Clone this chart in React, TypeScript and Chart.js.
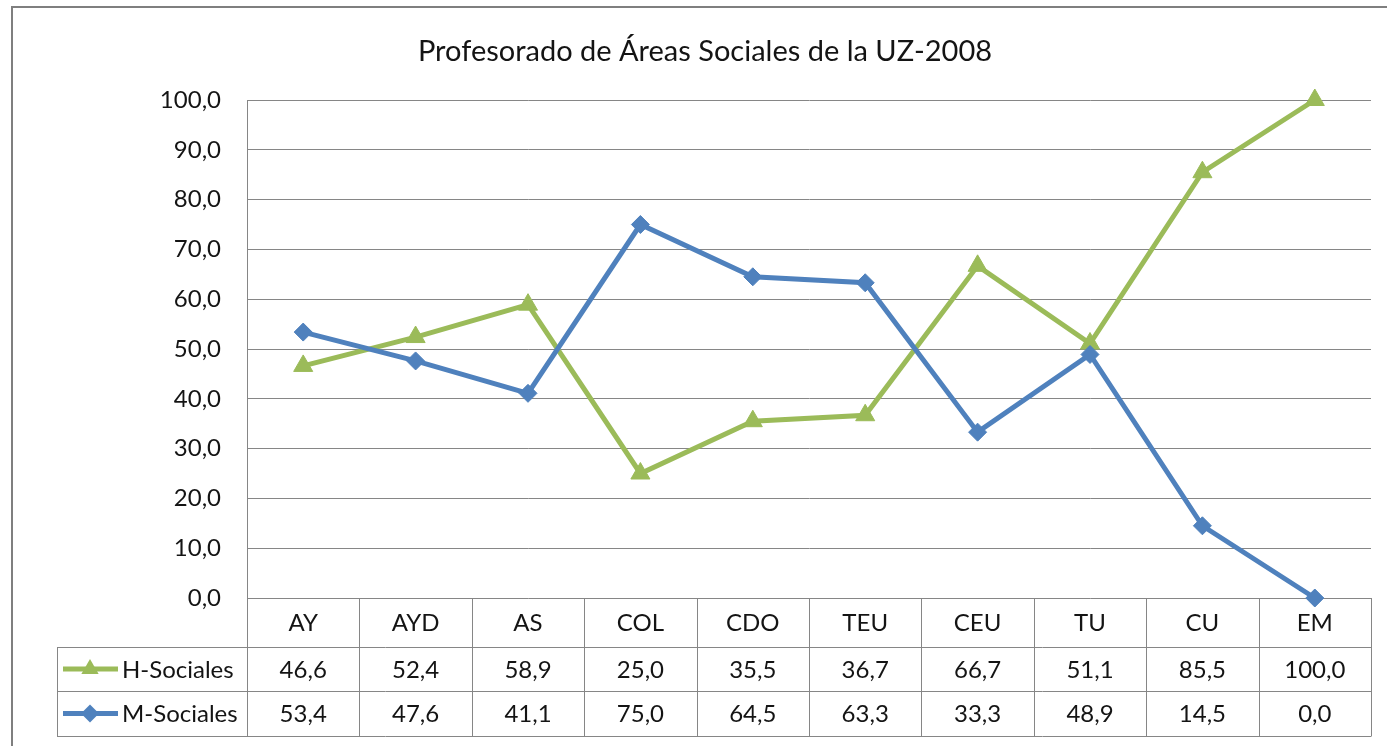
import React, { useEffect, useRef } from "react";
import { Chart, registerables } from "chart.js";

Chart.register(...registerables);

// ---------- data ----------
const categories = ["AY", "AYD", "AS", "COL", "CDO", "TEU", "CEU", "TU", "CU", "EM"];
const hSociales = [46.6, 52.4, 58.9, 25.0, 35.5, 36.7, 66.7, 51.1, 85.5, 100.0];
const mSociales = [53.4, 47.6, 41.1, 75.0, 64.5, 63.3, 33.3, 48.9, 14.5, 0.0];
const seriesNames = ["H-Sociales", "M-Sociales"];
const chartTitle = "Profesorado de Áreas Sociales de la UZ-2008";

// ---------- styles ----------
const GREEN = "#9BBB59";
const BLUE = "#4F81BD";
const GRID = "#868686";
const TEXT = "#141414";
const FONT = "Lato, 'Open Sans', sans-serif";
const fmt = (v: number) => v.toFixed(1).replace(".", ",");

function drawTriangle(ctx: CanvasRenderingContext2D, x: number, y: number, r: number) {
  ctx.beginPath();
  for (let i = 0; i < 3; i++) {
    const a = (i * 2 * Math.PI) / 3;
    const px = x + Math.sin(a) * r;
    const py = y - Math.cos(a) * r;
    if (i === 0) ctx.moveTo(px, py);
    else ctx.lineTo(px, py);
  }
  ctx.closePath();
  ctx.fill();
}

function drawDiamond(ctx: CanvasRenderingContext2D, x: number, y: number, r: number) {
  ctx.beginPath();
  ctx.moveTo(x, y - r);
  ctx.lineTo(x + r, y);
  ctx.lineTo(x, y + r);
  ctx.lineTo(x - r, y);
  ctx.closePath();
  ctx.fill();
}

const framePlugin = {
  id: "frameAndTitle",
  beforeDraw(chart: any) {
    const ctx: CanvasRenderingContext2D = chart.ctx;
    ctx.save();
    ctx.fillStyle = "#ffffff";
    ctx.fillRect(0, 0, chart.width, chart.height);
    ctx.strokeStyle = "#7f7f7f";
    ctx.lineWidth = 2;
    ctx.beginPath();
    ctx.moveTo(12, chart.height);
    ctx.lineTo(12, 7);
    ctx.lineTo(chart.width, 7);
    ctx.stroke();
    ctx.fillStyle = TEXT;
    ctx.font = `29px ${FONT}`;
    ctx.textAlign = "center";
    ctx.textBaseline = "alphabetic";
    ctx.fillText(chartTitle, 705, 61);
    ctx.restore();
  },
};

const tablePlugin = {
  id: "dataTable",
  afterDraw(chart: any) {
    const ctx: CanvasRenderingContext2D = chart.ctx;
    const { left, right, bottom } = chart.chartArea;
    const xs = chart.scales.x;
    const n = categories.length;
    const colW = (right - left) / n;
    const legendLeft = 57;
    const y0 = bottom;
    const y1 = y0 + 49;
    const y2 = y1 + 44;
    const y3 = y2 + 45;
    const a = (v: number) => Math.round(v) + 0.5;

    ctx.save();
    ctx.strokeStyle = GRID;
    ctx.lineWidth = 1;
    ctx.beginPath();
    [y1, y2, y3].forEach((yy) => {
      ctx.moveTo(legendLeft, a(yy));
      ctx.lineTo(right, a(yy));
    });
    for (let i = 0; i <= n; i++) {
      const xx = a(left + i * colW);
      ctx.moveTo(xx, y0);
      ctx.lineTo(xx, a(y3));
    }
    ctx.moveTo(a(legendLeft), a(y1));
    ctx.lineTo(a(legendLeft), a(y3));
    ctx.stroke();

    ctx.fillStyle = TEXT;
    ctx.font = `24px ${FONT}`;
    ctx.textAlign = "center";
    ctx.textBaseline = "middle";
    const rows = [hSociales, mSociales];
    categories.forEach((c, i) => {
      const cx = xs.getPixelForValue(i);
      ctx.fillText(c, cx, (y0 + y1) / 2 + 1);
      ctx.fillText(fmt(rows[0][i]), cx, (y1 + y2) / 2 + 1);
      ctx.fillText(fmt(rows[1][i]), cx, (y2 + y3) / 2 + 1);
    });

    // legend cells
    const colors = [GREEN, BLUE];
    [(y1 + y2) / 2, (y2 + y3) / 2].forEach((cy, k) => {
      ctx.strokeStyle = colors[k];
      ctx.lineWidth = 5;
      ctx.beginPath();
      ctx.moveTo(63, cy);
      ctx.lineTo(118, cy);
      ctx.stroke();
      ctx.fillStyle = colors[k];
      if (k === 0) drawTriangle(ctx, 90, cy, 10);
      else drawDiamond(ctx, 90, cy, 9);
      ctx.fillStyle = TEXT;
      ctx.textAlign = "left";
      ctx.fillText(seriesNames[k], 122, cy + 1);
    });
    ctx.restore();
  },
};

export default function App() {
  const ref = useRef<HTMLCanvasElement | null>(null);
  useEffect(() => {
    if (!ref.current) return;
    const chart = new Chart(ref.current, {
      type: "line",
      data: {
        labels: categories,
        datasets: [
          {
            label: seriesNames[0],
            data: hSociales,
            borderColor: GREEN,
            backgroundColor: GREEN,
            borderWidth: 5,
            pointStyle: "triangle",
            pointRadius: 11,
            pointBorderWidth: 1,
            pointBorderColor: GREEN,
            pointBackgroundColor: GREEN,
            tension: 0,
            clip: false,
            order: 1,
          },
          {
            label: seriesNames[1],
            data: mSociales,
            borderColor: BLUE,
            backgroundColor: BLUE,
            borderWidth: 5,
            pointStyle: "rectRot",
            pointRadius: 9,
            pointBorderWidth: 1,
            pointBorderColor: BLUE,
            pointBackgroundColor: BLUE,
            tension: 0,
            clip: false,
            order: 0,
          },
        ],
      },
      options: {
        responsive: false,
        animation: false,
        devicePixelRatio: 1,
        layout: { padding: { top: 100, right: 16, bottom: 148, left: 0 } },
        plugins: {
          legend: { display: false },
          title: { display: false },
          tooltip: { enabled: false },
        },
        scales: {
          x: { type: "category", display: false, offset: true },
          y: {
            min: 0,
            max: 100,
            ticks: {
              stepSize: 10,
              padding: 26,
              color: TEXT,
              font: { family: FONT, size: 24 },
              callback: (v: any) => fmt(Number(v)),
            },
            grid: { color: GRID, lineWidth: 1, drawTicks: false },
            border: { display: true, color: GRID, width: 1 },
            afterFit: (s: any) => {
              s.width = 247;
            },
          },
        },
      },
      plugins: [framePlugin, tablePlugin],
    });
    return () => chart.destroy();
  }, []);

  return (
    <div style={{ position: "absolute", left: 0, top: 0, width: 1387, height: 746, background: "#fff" }}>
      <canvas ref={ref} width={1387} height={746} style={{ display: "block" }} />
    </div>
  );
}
